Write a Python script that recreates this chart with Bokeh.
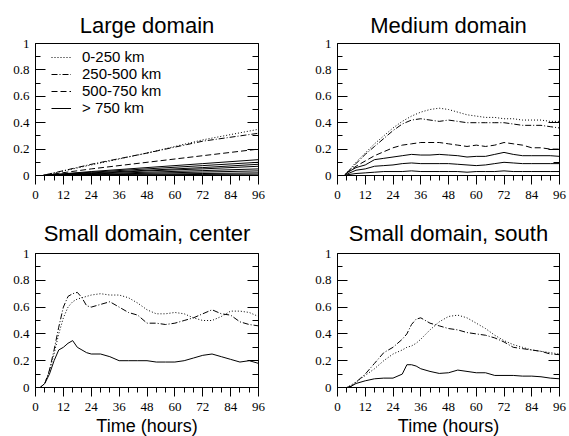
from bokeh.plotting import figure
from bokeh.layouts import row, column
from bokeh.models import (Range1d, FixedTicker, LinearAxis, Legend, LegendItem,
                          CustomLabelingPolicy)
from bokeh.embed import file_html
from bokeh.resources import INLINE

# ---------------- data ----------------
x_ticks = [0, 12, 24, 36, 48, 60, 72, 84, 96]
x_minor = [4, 8, 16, 20, 28, 32, 40, 44, 52, 56, 64, 68, 76, 80, 88, 92]
y_ticks = [0, 0.2, 0.4, 0.6, 0.8, 1]
y_minor = [0.1, 0.3, 0.5, 0.7, 0.9]
y_tick_labels = ["0", "0.2", "0.4", "0.6", "0.8", "1"]

legend_labels = ["0-250 km", "250-500 km", "500-750 km", "> 750 km"]

# Large domain
t_large = [0, 3, 24, 48, 72, 96]
large_dot = [0, 0, 0.08, 0.17, 0.27, 0.35]
large_dashdot = [0, 0, 0.085, 0.17, 0.26, 0.32]
large_dash = [0, 0, 0.05, 0.10, 0.15, 0.20]
large_solid_1 = [0, 0, 0.03, 0.06, 0.09, 0.12]
large_solid_2 = [0, 0, 0.025, 0.05, 0.075, 0.10]
large_solid_3 = [0, 0, 0.02, 0.04, 0.06, 0.085]
large_solid_4 = [0, 0, 0.015, 0.035, 0.05, 0.07]
large_solid_5 = [0, 0, 0.012, 0.025, 0.037, 0.05]
large_solid_6 = [0, 0, 0.008, 0.017, 0.026, 0.035]
large_solid_7 = [0, 0, 0.005, 0.01, 0.015, 0.02]
large_solid_8 = [0, 0, 0.003, 0.005, 0.008, 0.01]

# Medium domain
t_medium = [0, 3, 4, 8, 12, 16, 20, 24, 28, 32, 36, 40, 44, 48, 52, 56, 60, 64, 68, 72, 76, 80, 84, 88, 92, 96]
medium_dot = [0, 0, 0.02, 0.10, 0.17, 0.24, 0.30, 0.36, 0.41, 0.45, 0.48, 0.50, 0.51, 0.50, 0.48, 0.46, 0.45, 0.44, 0.44, 0.43, 0.43, 0.42, 0.42, 0.42, 0.41, 0.41]
medium_dashdot = [0, 0, 0.02, 0.09, 0.16, 0.22, 0.28, 0.34, 0.39, 0.42, 0.43, 0.42, 0.41, 0.42, 0.41, 0.40, 0.40, 0.40, 0.40, 0.40, 0.39, 0.38, 0.38, 0.38, 0.37, 0.36]
medium_dash = [0, 0, 0.02, 0.07, 0.11, 0.15, 0.18, 0.21, 0.23, 0.24, 0.25, 0.25, 0.25, 0.24, 0.23, 0.22, 0.23, 0.22, 0.23, 0.25, 0.24, 0.23, 0.21, 0.21, 0.20, 0.20]
medium_solid_1 = [0, 0, 0.02, 0.06, 0.08, 0.12, 0.13, 0.14, 0.15, 0.16, 0.155, 0.155, 0.16, 0.155, 0.15, 0.14, 0.145, 0.145, 0.16, 0.175, 0.16, 0.15, 0.15, 0.15, 0.15, 0.145]
medium_solid_2 = [0, 0, 0.01, 0.04, 0.05, 0.07, 0.075, 0.08, 0.09, 0.095, 0.09, 0.09, 0.09, 0.09, 0.085, 0.08, 0.075, 0.08, 0.09, 0.10, 0.095, 0.09, 0.09, 0.09, 0.09, 0.09]
medium_solid_3 = [0, 0, 0.005, 0.015, 0.02, 0.025, 0.03, 0.03, 0.03, 0.035, 0.03, 0.03, 0.03, 0.03, 0.03, 0.025, 0.03, 0.03, 0.03, 0.035, 0.03, 0.03, 0.03, 0.03, 0.03, 0.03]

# Small domain, center
t_center = [0, 2, 4, 6, 8, 10, 12, 14, 16, 18, 20, 22, 24, 28, 32, 36, 40, 44, 48, 52, 56, 60, 64, 68, 72, 76, 80, 84, 88, 92, 96]
center_dot = [0, 0, 0.03, 0.12, 0.25, 0.40, 0.52, 0.60, 0.64, 0.66, 0.67, 0.68, 0.69, 0.70, 0.69, 0.69, 0.67, 0.63, 0.58, 0.55, 0.55, 0.56, 0.55, 0.52, 0.50, 0.50, 0.53, 0.57, 0.57, 0.56, 0.53]
center_dashdot = [0, 0, 0.03, 0.13, 0.28, 0.45, 0.60, 0.68, 0.70, 0.71, 0.67, 0.61, 0.60, 0.62, 0.64, 0.60, 0.56, 0.54, 0.48, 0.48, 0.47, 0.48, 0.50, 0.52, 0.55, 0.58, 0.55, 0.54, 0.49, 0.47, 0.46]
center_solid = [0, 0, 0.03, 0.10, 0.20, 0.28, 0.30, 0.33, 0.35, 0.30, 0.28, 0.26, 0.25, 0.25, 0.23, 0.20, 0.20, 0.20, 0.20, 0.19, 0.19, 0.19, 0.20, 0.22, 0.24, 0.25, 0.23, 0.21, 0.19, 0.20, 0.18]

# Small domain, south
t_south = [0, 4, 6, 8, 12, 16, 20, 24, 28, 30, 32, 34, 36, 40, 44, 48, 52, 56, 60, 64, 68, 72, 76, 80, 84, 88, 92, 96]
south_dot = [0, 0, 0.02, 0.04, 0.09, 0.14, 0.20, 0.25, 0.28, 0.30, 0.31, 0.33, 0.36, 0.43, 0.49, 0.53, 0.54, 0.52, 0.48, 0.44, 0.39, 0.35, 0.32, 0.30, 0.28, 0.27, 0.26, 0.25]
south_dashdot = [0, 0, 0.01, 0.04, 0.10, 0.18, 0.26, 0.30, 0.36, 0.40, 0.47, 0.51, 0.52, 0.48, 0.46, 0.44, 0.43, 0.41, 0.40, 0.39, 0.37, 0.34, 0.30, 0.29, 0.28, 0.27, 0.25, 0.245]
south_solid = [0, 0, 0.01, 0.03, 0.05, 0.065, 0.07, 0.07, 0.10, 0.17, 0.17, 0.16, 0.14, 0.12, 0.105, 0.11, 0.13, 0.12, 0.11, 0.11, 0.09, 0.09, 0.09, 0.085, 0.085, 0.08, 0.07, 0.065]

titles = ["Large domain", "Medium domain", "Small domain, center", "Small domain, south"]
x_label = "Time (hours)"

DOT, DASHDOT, DASH, SOLID = "1 2", "6 2 1 2", "6 3", "solid"

SERIF = "Liberation Serif"
SANS = "Liberation Sans"


def make_fig(title, left, top, fh, bottom, fw, right, with_xlabel, title_standoff):
    p = figure(output_backend="svg", toolbar_location=None,
               frame_width=fw, frame_height=fh,
               min_border_left=left, min_border_right=right,
               min_border_top=top, min_border_bottom=bottom,
               x_range=Range1d(0, 96), y_range=Range1d(0, 1),
               title=title)
    p.title.align = "center"
    p.title.text_font = SANS
    p.title.text_font_size = "22px"
    p.title.text_font_style = "normal"
    p.title.text_color = "black"
    p.title.standoff = title_standoff
    p.grid.visible = False
    p.outline_line_color = "black"
    p.outline_line_width = 1
    p.outline_line_alpha = 1
    p.background_fill_color = "white"
    p.border_fill_color = "white"

    xa = p.xaxis[0]
    xa.ticker = FixedTicker(ticks=x_ticks, minor_ticks=x_minor)
    xa.major_tick_in = 0
    xa.major_tick_out = 9
    xa.minor_tick_in = 0
    xa.minor_tick_out = 5
    xa.axis_line_color = "black"
    xa.major_tick_line_color = "black"
    xa.minor_tick_line_color = "black"
    xa.major_label_standoff = 6
    xa.major_label_text_font = SERIF
    xa.major_label_text_font_size = "13px"
    xa.major_label_text_color = "black"
    if with_xlabel:
        xa.axis_label = x_label
        xa.axis_label_text_font = SANS
        xa.axis_label_text_font_size = "18px"
        xa.axis_label_text_font_style = "normal"
        xa.axis_label_text_color = "black"
        xa.axis_label_standoff = 2

    ya = p.yaxis[0]
    ya.ticker = FixedTicker(ticks=y_ticks, minor_ticks=y_minor)
    ya.major_label_overrides = {v: s for v, s in zip(y_ticks, y_tick_labels)}
    ya.major_tick_in = 10
    ya.major_tick_out = 0
    ya.minor_tick_in = 5
    ya.minor_tick_out = 0
    ya.axis_line_color = "black"
    ya.major_tick_line_color = "black"
    ya.minor_tick_line_color = "black"
    ya.major_label_standoff = 6
    ya.major_label_text_font = SERIF
    ya.major_label_text_font_size = "13px"
    ya.major_label_text_color = "black"

    ra = LinearAxis(ticker=FixedTicker(ticks=y_ticks, minor_ticks=y_minor),
                    major_tick_in=11, major_tick_out=0,
                    minor_tick_in=6, minor_tick_out=0,
                    major_label_policy=CustomLabelingPolicy(
                        code="for (const i of indices) { if (false) yield i }"),
                    major_label_standoff=0,
                    axis_line_color="black",
                    major_tick_line_color="black",
                    minor_tick_line_color="black")
    p.add_layout(ra, "right")
    return p


def draw(p, t, y, dash):
    return p.line(t, y, line_color="black", line_width=1, line_dash=dash)


p1 = make_fig(titles[0], 35, 43, 132, 36, 223, 20, False, 12)
r_dot = draw(p1, t_large, large_dot, DOT)
r_dd = draw(p1, t_large, large_dashdot, DASHDOT)
r_da = draw(p1, t_large, large_dash, DASH)
r_so = draw(p1, t_large, large_solid_1, SOLID)
for s in [large_solid_2, large_solid_3, large_solid_4, large_solid_5,
          large_solid_6, large_solid_7, large_solid_8]:
    draw(p1, t_large, s, SOLID)

legend = Legend(items=[LegendItem(label=lab, renderers=[r])
                       for lab, r in zip(legend_labels, [r_dot, r_dd, r_da, r_so])],
                location=(16, 59), padding=0, margin=0, spacing=0,
                glyph_width=20, glyph_height=16, label_height=16,
                label_standoff=11, border_line_alpha=0,
                background_fill_alpha=0,
                label_text_font=SANS, label_text_font_size="15px",
                label_text_color="black")
p1.add_layout(legend, "center")

p2 = make_fig(titles[1], 59, 43, 132, 36, 222, 4, False, 12)
for s, d in [(medium_dot, DOT), (medium_dashdot, DASHDOT), (medium_dash, DASH),
             (medium_solid_1, SOLID), (medium_solid_2, SOLID), (medium_solid_3, SOLID)]:
    draw(p2, t_medium, s, d)

p3 = make_fig(titles[2], 35, 42, 134, 49, 223, 20, True, 15)
for s, d in [(center_dot, DOT), (center_dashdot, DASHDOT), (center_solid, SOLID)]:
    draw(p3, t_center, s, d)

p4 = make_fig(titles[3], 59, 42, 134, 49, 222, 4, True, 15)
for s, d in [(south_dot, DOT), (south_dashdot, DASHDOT), (south_solid, SOLID)]:
    draw(p4, t_south, s, d)

layout = column(row(p1, p2), row(p3, p4))
open("out.html", "w").write(file_html(layout, INLINE))
